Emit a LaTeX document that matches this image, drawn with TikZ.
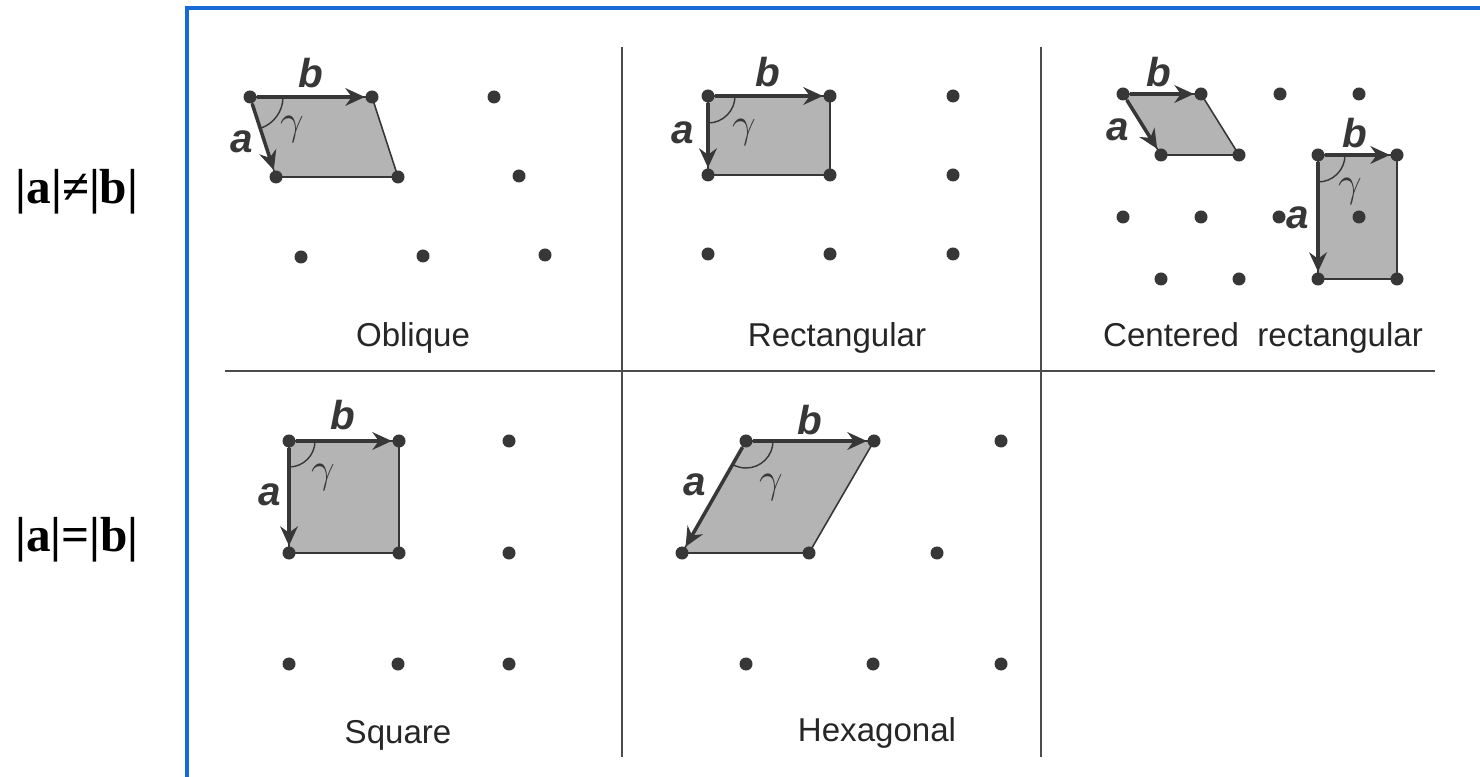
\documentclass[tikz,border=0pt]{standalone}
\usepackage{fontspec}
\setmainfont{Liberation Serif}
\setsansfont{Liberation Sans}
\usetikzlibrary{arrows.meta,backgrounds}

\definecolor{frameblue}{RGB}{22,106,214}
\definecolor{inkgray}{RGB}{55,55,55}
\definecolor{cellgray}{RGB}{180,180,180}

\tikzset{
  latpt/.style={circle, fill=inkgray, inner sep=0pt, minimum size=0.13cm},
  vec/.style={-{Stealth[length=5.5pt, width=5pt, inset=1.8pt]}, line width=1pt, draw=inkgray},
  cell/.style={fill=cellgray, draw=inkgray, line width=0.45pt},
  gangle/.style={draw=inkgray, line width=0.4pt},
  vlabel/.style={font=\sffamily\bfseries\itshape\fontsize{11.5}{13}\selectfont, text=inkgray, inner sep=0pt},
  glabel/.style={font=\fontsize{12}{14}\selectfont, text=inkgray, inner sep=0pt},
  kind/.style={font=\sffamily\fontsize{9.4}{11}\selectfont, text=black!85},
  cond/.style={font=\bfseries\fontsize{14}{16}\selectfont},
  divider/.style={draw=black!70, line width=0.45pt}
}

\begin{document}
\begin{tikzpicture}[x=0.01cm, y=-0.01cm]
\useasboundingbox (0,0) rectangle (1480,777);

% Frame (open to the right and bottom)
\draw[frameblue, line width=0.9pt] (187,777) -- (187,8) -- (1480,8);

% Grid of panels
\draw[divider] (622,47) -- (622,757);
\draw[divider] (1041,47) -- (1041,757);
\draw[divider] (225,371) -- (1435,371);

% Row conditions
\node[cond] (neq) at (77,192) {|a|≠|b|};
\node[cond] (eq) at (77,540) {|a|=|b|};

% Oblique
\node[latpt] (o00) at (250,97) {};
\node[latpt] (o10) at (372,97) {};
\node[latpt] (o20) at (494,97) {};
\node[latpt] (o01) at (276,177) {};
\node[latpt] (o11) at (398,177) {};
\node[latpt] (o21) at (519,176) {};
\node[latpt] (o02) at (301,257) {};
\node[latpt] (o12) at (423,256) {};
\node[latpt] (o22) at (545,255) {};
\begin{scope}[on background layer]
\filldraw[cell] (o00.center) -- (o10.center) -- (o11.center) -- (o01.center) -- cycle;
\end{scope}
\draw[vec] (o00) -- (o10);
\draw[vec] (o00) -- (o01);
\draw[gangle] ([shift={(0:33)}]o00.center) arc[start angle=0, end angle=72, radius=33];
\node[vlabel] (ob) at (311,73) {b};
\node[vlabel] (oa) at (242,142) {a};
\node[glabel] (og) at (292,130) {$\gamma$};
\node[kind] (okind) at (413,338) {Oblique};

% Rectangular
\node[latpt] (r00) at (708,96) {};
\node[latpt] (r10) at (830,96) {};
\node[latpt] (r20) at (953,96) {};
\node[latpt] (r01) at (708,175) {};
\node[latpt] (r11) at (830,175) {};
\node[latpt] (r21) at (953,175) {};
\node[latpt] (r02) at (708,254) {};
\node[latpt] (r12) at (830,254) {};
\node[latpt] (r22) at (953,254) {};
\begin{scope}[on background layer]
\filldraw[cell] (r00.center) -- (r10.center) -- (r11.center) -- (r01.center) -- cycle;
\end{scope}
\draw[vec] (r00) -- (r10);
\draw[vec] (r00) -- (r01);
\draw[gangle] ([shift={(0:27)}]r00.center) arc[start angle=0, end angle=90, radius=27];
\node[vlabel] (rb) at (768,72) {b};
\node[vlabel] (ra) at (683,133) {a};
\node[glabel] (rg) at (744,133) {$\gamma$};
\node[kind] (rkind) at (837,338) {Rectangular};

% Centered rectangular
\node[latpt] (cA1) at (1123,94) {};
\node[latpt] (cA2) at (1201,94) {};
\node[latpt] (cA3) at (1280,94) {};
\node[latpt] (cA4) at (1359,94) {};
\node[latpt] (cB1) at (1161,155) {};
\node[latpt] (cB2) at (1239,155) {};
\node[latpt] (cB3) at (1318,155) {};
\node[latpt] (cB4) at (1397,155) {};
\node[latpt] (cC1) at (1123,217) {};
\node[latpt] (cC2) at (1201,217) {};
\node[latpt] (cC3) at (1279,217) {};
\node[latpt] (cC4) at (1359,217) {};
\node[latpt] (cD1) at (1161,279) {};
\node[latpt] (cD2) at (1239,279) {};
\node[latpt] (cD3) at (1318,279) {};
\node[latpt] (cD4) at (1397,279) {};
\begin{scope}[on background layer]
\filldraw[cell] (cA1.center) -- (cA2.center) -- (cB2.center) -- (cB1.center) -- cycle;
\filldraw[cell] (cB3.center) -- (cB4.center) -- (cD4.center) -- (cD3.center) -- cycle;
\end{scope}
\draw[vec] (cA1) -- (cA2);
\draw[vec] (cA1) -- (cB1);
\draw[vec] (cB3) -- (cB4);
\draw[vec] (cB3) -- (cD3);
\draw[gangle] ([shift={(0:27)}]cB3.center) arc[start angle=0, end angle=90, radius=27];
\node[vlabel] (cb) at (1159,72) {b};
\node[vlabel] (ca) at (1118,130) {a};
\node[vlabel] (cb2) at (1355,133) {b};
\node[vlabel] (ca2) at (1298,218) {a};
\node[glabel] (cg) at (1350,192) {$\gamma$};
\node[kind] (ckind) at (1263,338) {Centered\ \ rectangular};

% Square
\node[latpt] (s00) at (289,441) {};
\node[latpt] (s10) at (399,441) {};
\node[latpt] (s20) at (509,441) {};
\node[latpt] (s01) at (289,553) {};
\node[latpt] (s11) at (399,553) {};
\node[latpt] (s21) at (509,553) {};
\node[latpt] (s02) at (289,664) {};
\node[latpt] (s12) at (398,664) {};
\node[latpt] (s22) at (509,664) {};
\begin{scope}[on background layer]
\filldraw[cell] (s00.center) -- (s10.center) -- (s11.center) -- (s01.center) -- cycle;
\end{scope}
\draw[vec] (s00) -- (s10);
\draw[vec] (s00) -- (s01);
\draw[gangle] ([shift={(0:26)}]s00.center) arc[start angle=0, end angle=90, radius=26];
\node[vlabel] (sb) at (343,415) {b};
\node[vlabel] (sa) at (270,495) {a};
\node[glabel] (sg) at (323,478) {$\gamma$};
\node[kind] (skind) at (398,735) {Square};

% Hexagonal
\node[latpt] (h00) at (746,441) {};
\node[latpt] (h10) at (874,441) {};
\node[latpt] (h20) at (1001,441) {};
\node[latpt] (h01) at (682,553) {};
\node[latpt] (h11) at (809,553) {};
\node[latpt] (h21) at (937,553) {};
\node[latpt] (h12) at (746,664) {};
\node[latpt] (h22) at (873,664) {};
\node[latpt] (h32) at (1001,664) {};
\begin{scope}[on background layer]
\filldraw[cell] (h00.center) -- (h10.center) -- (h11.center) -- (h01.center) -- cycle;
\end{scope}
\draw[vec] (h00) -- (h10);
\draw[vec] (h00) -- (h01);
\draw[gangle] ([shift={(0:27)}]h00.center) arc[start angle=0, end angle=120, radius=27];
\node[vlabel] (hb) at (810,420) {b};
\node[vlabel] (ha) at (695,485) {a};
\node[glabel] (hg) at (771,488) {$\gamma$};
\node[kind] (hkind) at (877,733) {Hexagonal};

\end{tikzpicture}
\end{document}
